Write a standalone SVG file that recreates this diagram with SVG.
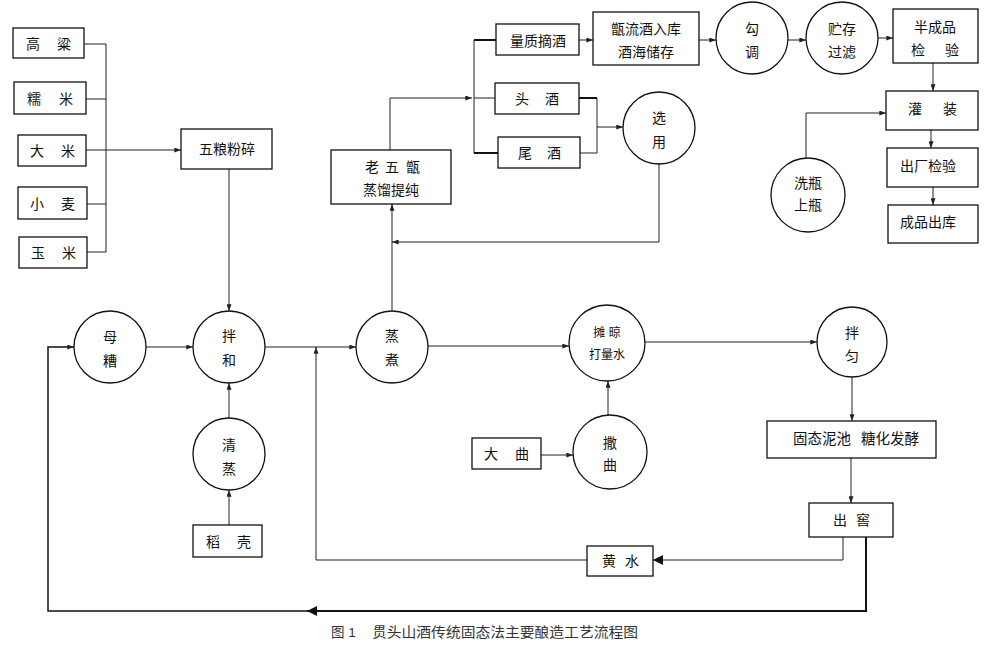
<svg xmlns="http://www.w3.org/2000/svg" width="987" height="648" viewBox="0 0 987 648">
<defs>
<style>
.box{fill:#fff;stroke:#111;stroke-width:1.3}
.cir{fill:#fff;stroke:#111;stroke-width:1.3}
.t{font-family:"Liberation Sans","Noto Sans CJK SC",sans-serif;font-size:14px;fill:#111;text-anchor:middle;dominant-baseline:central}
.s{font-size:12px}
.ln{fill:none;stroke:#222;stroke-width:1}
.th{fill:none;stroke:#111;stroke-width:2}
.md{fill:none;stroke:#111;stroke-width:1.5}
.cap{font-family:"Liberation Sans","Noto Sans CJK SC",sans-serif;font-size:13.5px;fill:#333;dominant-baseline:central}
</style>
<marker id="a" viewBox="0 0 8 6" refX="8" refY="3" markerWidth="7" markerHeight="5" markerUnits="userSpaceOnUse" orient="auto"><path d="M0,0 L8,3 L0,6 Z" fill="#222"/></marker>
<marker id="b" viewBox="0 0 10 10" refX="10" refY="5" markerWidth="10" markerHeight="10" markerUnits="userSpaceOnUse" orient="auto"><path d="M0,0 L10,5 L0,10 Z" fill="#111"/></marker>
</defs>
<rect width="987" height="648" fill="#fff"/>

<g id="connectors">
<path class="ln" d="M84,44 H106 M86,99 H106 M87,204 H106 M87,252 H106 M106,44 V252"/>
<path class="ln" d="M86,150 H181" marker-end="url(#a)"/>
<path class="ln" d="M229,169 V311" marker-end="url(#a)"/>
<path class="ln" d="M146,347 H193" marker-end="url(#a)"/>
<path class="ln" d="M265,347 H356" marker-end="url(#a)"/>
<path class="ln" d="M587,560 H316 V347" marker-end="url(#a)"/>
<path class="ln" d="M229,525 V490" marker-end="url(#a)"/>
<path class="ln" d="M229,418 V383" marker-end="url(#a)"/>
<path class="ln" d="M392,311 V204" marker-end="url(#a)"/>
<path class="ln" d="M659,164 V242 H392" marker-end="url(#a)"/>
<path class="ln" d="M390,150 V98 H472" marker-end="url(#a)"/>
<path class="ln" d="M474,40 V153 M474,98 H495"/>
<path class="th" d="M474,40 H496 M474,153 H498"/>
<path class="ln" d="M579,40 H593" marker-end="url(#a)"/>
<path class="th" d="M579,98 H597"/>
<path class="ln" d="M580,153 H597 M597,98 V153"/>
<path class="ln" d="M597,127 H623" marker-end="url(#a)"/>
<path class="ln" d="M699,40 H716" marker-end="url(#a)"/>
<path class="ln" d="M788,40 H806" marker-end="url(#a)"/>
<path class="ln" d="M878,38 H893" marker-end="url(#a)"/>
<path class="ln" d="M933,63 V91" marker-end="url(#a)"/>
<path class="ln" d="M931,130 V148" marker-end="url(#a)"/>
<path class="ln" d="M933,187 V205" marker-end="url(#a)"/>
<path class="ln" d="M806,159 V113 H886" marker-end="url(#a)"/>
<path class="ln" d="M428,346 H569" marker-end="url(#a)"/>
<path class="ln" d="M645,342 H817" marker-end="url(#a)"/>
<path class="ln" d="M608,415 V381" marker-end="url(#a)"/>
<path class="ln" d="M541,455 H573" marker-end="url(#a)"/>
<path class="ln" d="M852,377 V421" marker-end="url(#a)"/>
<path class="ln" d="M851,458 V503" marker-end="url(#a)"/>
<path class="ln" d="M843,537 V560 H653" marker-end="url(#b)"/>
<path class="th" d="M866,537 V611 H307" marker-end="url(#b)"/>
<path class="md" d="M308,611 H48 V347 H74" marker-end="url(#a)"/>
</g>

<g id="n-gaoliang"><rect class="box" x="13" y="28" width="71" height="30"/><text class="t"><tspan x="33" y="44">高</tspan><tspan x="64" y="44">粱</tspan></text></g>
<g id="n-nuomi"><rect class="box" x="14" y="82" width="72" height="32"/><text class="t"><tspan x="34" y="99">糯</tspan><tspan x="66" y="99">米</tspan></text></g>
<g id="n-dami"><rect class="box" x="18" y="135" width="68" height="31"/><text class="t"><tspan x="37" y="151">大</tspan><tspan x="68" y="151">米</tspan></text></g>
<g id="n-xiaomai"><rect class="box" x="18" y="187" width="69" height="32"/><text class="t"><tspan x="37" y="204">小</tspan><tspan x="68" y="204">麦</tspan></text></g>
<g id="n-yumi"><rect class="box" x="19" y="237" width="68" height="31"/><text class="t"><tspan x="38" y="253">玉</tspan><tspan x="69" y="253">米</tspan></text></g>
<g id="n-fensui"><rect class="box" x="181" y="129" width="91" height="40"/><text class="t" x="227" y="149">五粮粉碎</text></g>

<g id="n-muzao"><circle class="cir" cx="110" cy="347" r="36"/><text class="t"><tspan x="110" y="337">母</tspan><tspan x="110" y="361">糟</tspan></text></g>
<g id="n-banhe"><circle class="cir" cx="229" cy="347" r="36"/><text class="t"><tspan x="229" y="336">拌</tspan><tspan x="229" y="360">和</tspan></text></g>
<g id="n-qingzheng"><circle class="cir" cx="229" cy="454" r="36"/><text class="t"><tspan x="229" y="445">清</tspan><tspan x="229" y="469">蒸</tspan></text></g>
<g id="n-daoke"><rect class="box" x="193" y="525" width="69" height="32"/><text class="t"><tspan x="213" y="542">稻</tspan><tspan x="244" y="542">壳</tspan></text></g>
<g id="n-zhengzhu"><circle class="cir" cx="392" cy="347" r="36"/><text class="t"><tspan x="392" y="336">蒸</tspan><tspan x="392" y="360">煮</tspan></text></g>

<g id="n-laowuzeng"><rect class="box" x="331" y="150" width="120" height="54"/><text class="t"><tspan x="372" y="167">老</tspan><tspan x="392" y="167">五</tspan><tspan x="413" y="167">甑</tspan><tspan x="391" y="190">蒸馏提纯</tspan></text></g>
<g id="n-zhaijiu"><rect class="box" x="496" y="24" width="83" height="31"/><text class="t" x="538" y="41">量质摘酒</text></g>
<g id="n-toujiu"><rect class="box" x="495" y="83" width="84" height="31"/><text class="t"><tspan x="522" y="99">头</tspan><tspan x="552" y="99">酒</tspan></text></g>
<g id="n-weijiu"><rect class="box" x="498" y="137" width="82" height="31"/><text class="t"><tspan x="525" y="153">尾</tspan><tspan x="554" y="153">酒</tspan></text></g>
<g id="n-ruku"><rect class="box" x="593" y="12" width="106" height="53"/><text class="t"><tspan x="646" y="29">甑流酒入库</tspan><tspan x="646" y="52">酒海储存</tspan></text></g>
<g id="n-xuanyong"><circle class="cir" cx="659" cy="128" r="36"/><text class="t"><tspan x="659" y="118">选</tspan><tspan x="659" y="142">用</tspan></text></g>
<g id="n-goutiao"><circle class="cir" cx="752" cy="38" r="36"/><text class="t"><tspan x="752" y="29">勾</tspan><tspan x="752" y="52">调</tspan></text></g>
<g id="n-zhucun"><circle class="cir" cx="842" cy="38" r="36"/><text class="t"><tspan x="842" y="29">贮存</tspan><tspan x="842" y="52">过滤</tspan></text></g>
<g id="n-banchengpin"><rect class="box" x="893" y="9" width="85" height="54"/><text class="t"><tspan x="935" y="27">半成品</tspan><tspan x="918" y="50">检</tspan><tspan x="952" y="50">验</tspan></text></g>
<g id="n-guanzhuang"><rect class="box" x="886" y="91" width="92" height="39"/><text class="t"><tspan x="915" y="109">灌</tspan><tspan x="950" y="109">装</tspan></text></g>
<g id="n-chuchang"><rect class="box" x="887" y="148" width="91" height="39"/><text class="t" x="928" y="166">出厂检验</text></g>
<g id="n-chengpin"><rect class="box" x="888" y="205" width="90" height="38"/><text class="t" x="928" y="222">成品出库</text></g>
<g id="n-xiping"><circle class="cir" cx="808" cy="195" r="37"/><text class="t"><tspan x="808" y="183">洗瓶</tspan><tspan x="808" y="205">上瓶</tspan></text></g>

<g id="n-tanliang"><circle class="cir" cx="607" cy="343" r="38"/><text class="t s"><tspan x="607" y="333">摊 晾</tspan><tspan x="607" y="355">打量水</tspan></text></g>
<g id="n-banyun"><circle class="cir" cx="852" cy="342" r="35"/><text class="t"><tspan x="852" y="333">拌</tspan><tspan x="852" y="356">匀</tspan></text></g>
<g id="n-saqu"><circle class="cir" cx="610" cy="452" r="37"/><text class="t"><tspan x="610" y="443">撒</tspan><tspan x="610" y="465">曲</tspan></text></g>
<g id="n-daqu"><rect class="box" x="472" y="438" width="69" height="31"/><text class="t"><tspan x="491" y="454">大</tspan><tspan x="522" y="454">曲</tspan></text></g>
<g id="n-fajiao"><rect class="box" x="767" y="421" width="169" height="37"/><text class="t" style="font-size:14.5px"><tspan x="822" y="439">固态泥池</tspan><tspan x="890" y="439">糖化发酵</tspan></text></g>
<g id="n-chujiao"><rect class="box" x="809" y="503" width="84" height="34"/><text class="t"><tspan x="840" y="520">出</tspan><tspan x="863" y="520">窖</tspan></text></g>
<g id="n-huangshui"><rect class="box" x="587" y="546" width="66" height="30"/><text class="t"><tspan x="609" y="561">黄</tspan><tspan x="632" y="561">水</tspan></text></g>

<g id="caption"><text class="cap" x="331" y="632">图 1</text><text class="cap" x="372" y="632" textLength="266" lengthAdjust="spacingAndGlyphs">贯头山酒传统固态法主要酿造工艺流程图</text></g>
</svg>
